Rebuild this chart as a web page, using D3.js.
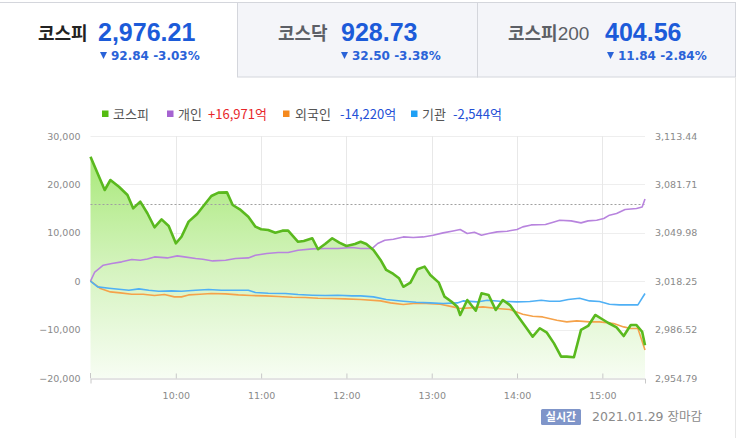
<!DOCTYPE html>
<html>
<head>
<meta charset="utf-8">
<script src="https://cdn.jsdelivr.net/npm/d3@7"></script>
<style>
  body { margin: 0; background: #fff; }
  svg { display: block; }
</style>
</head>
<body>
<svg id="chart" width="743" height="438"></svg>
<script>
// header tabs
const tabNames = ['코스피', '코스닥', '코스피200'];
const tabValues = ['2,976.21', '928.73', '404.56'];
const tabChanges = ['92.84 -3.03%', '32.50 -3.38%', '11.84 -2.84%'];

// minutes after 09:00
const kospiMin = [0, 10, 14, 20, 26, 30, 35, 40, 45, 50, 55, 60, 64, 69, 75, 79, 85, 90, 96, 100,
  105, 111, 116, 120, 125, 130, 135, 139, 146, 150, 156, 160, 165, 170, 175, 180, 186, 190, 194, 199,
  204, 208, 213, 217, 220, 225, 230, 235, 239, 245, 249, 254, 258, 260, 265, 271, 275, 280, 285, 290,
  295, 300, 306, 311, 316, 321, 326, 331, 335, 340, 345, 350, 355, 360, 364, 370, 375, 380, 384, 388, 390];
const kospiVal = [3099.87, 3078.04, 3084.6, 3080.2, 3074.76, 3066.0, 3070.4, 3062.8, 3053.6, 3058.8,
  3054.4, 3043.1, 3047.4, 3057.3, 3062.3, 3067.1, 3074.1, 3076.3, 3076.5, 3068.2,
  3065.4, 3060.5, 3054.0, 3052.3, 3051.8, 3050.0, 3051.4, 3051.4, 3044.1, 3044.6,
  3046.4, 3039.2, 3042.6, 3046.4, 3043.5, 3041.3, 3042.6, 3044.1, 3042.6, 3038.7,
  3032.2, 3025.6, 3023.0, 3020.2, 3014.6, 3017.3, 3026.1, 3027.8, 3022.3, 3017.3,
  3008.1, 3004.8, 3001.5, 2996.1, 3005.9, 2998.9, 3010.3, 3009.2, 2999.4, 3005.9,
  3002.6, 2996.1, 2988.4, 2981.9, 2987.4, 2984.5, 2977.5, 2968.8, 2968.8, 2968.4,
  2986.3, 2988.9, 2996.1, 2993.3, 2991.0, 2988.0, 2982.3, 2989.5, 2989.5, 2985.1, 2976.21];
const prevClose = 3069.05;

// 개인
const retailMin = [0, 3, 9, 15, 22, 29, 35, 40, 45, 54, 61, 66, 74, 79, 86, 95, 102, 111, 116, 124,
  132, 139, 146, 156, 165, 174, 184, 190, 198, 202, 207, 213, 220, 227, 234, 241, 248, 255, 260, 265,
  270, 275, 280, 286, 293, 300, 304, 310, 320, 326, 330, 338, 345, 350, 356, 361, 365, 370, 376, 384, 388, 390];
const retailVal = [0, 1900, 3300, 3650, 4000, 4480, 4340, 4600, 5020, 4810,
  5230, 5020, 4690, 4540, 4190, 4340, 4690, 4810, 5370, 5720,
  5930, 5930, 6400, 6670, 6750, 6750, 6960, 6750, 6750, 7790,
  8470, 8680, 9150, 9020, 9150, 9500, 9980, 10390, 10680, 9850,
  10120, 9500, 9850, 10190, 10330, 10680, 11220, 11630, 11710, 12250,
  12600, 12460, 12050, 12460, 12600, 12950, 13640, 13990, 14810, 15020, 15350, 16971];

// 외국인
const foreignMin = [0, 7, 14, 21, 29, 37, 45, 52, 59, 64, 69, 77, 85, 95, 104, 113, 123, 132, 142, 151,
  160, 170, 179, 190, 204, 211, 220, 227, 236, 246, 255, 260, 267, 276, 286, 295, 304, 311, 318, 328,
  335, 342, 351, 358, 368, 375, 380, 385, 390];
const foreignVal = [0, -1510, -2210, -2420, -2690, -2690, -2960, -2750, -3240, -3240,
  -2830, -2690, -2540, -2620, -2830, -2960, -3040, -3160, -3310, -3370,
  -3510, -3580, -3660, -3780, -4070, -4480, -4810, -4610, -4610, -4750,
  -5310, -5640, -5520, -5310, -5640, -5850, -6820, -7230, -7380, -8060,
  -8410, -8200, -8410, -8410, -8740, -9440, -9770, -9770, -14220];

// 기관
const instMin = [0, 5, 13, 20, 27, 34, 41, 48, 57, 64, 74, 83, 92, 102, 111, 116, 125, 137, 146, 156,
  165, 174, 184, 190, 199, 208, 220, 229, 239, 248, 258, 262, 272, 279, 288, 300, 309, 317, 323, 330,
  336, 344, 351, 358, 365, 372, 377, 385, 390];
const instVal = [0, -1180, -1450, -1650, -1860, -1590, -1860, -2070, -2000, -2070,
  -1860, -1710, -1860, -1860, -1860, -2330, -2480, -2540, -2750, -2890,
  -2960, -2890, -3040, -3040, -3240, -3780, -4130, -4340, -4480, -4610,
  -4480, -4070, -4280, -3930, -4130, -4280, -4200, -3930, -4130, -4130,
  -3780, -3510, -4070, -4200, -4750, -4890, -4890, -4890, -2544];

const leftTicks = [30000, 20000, 10000, 0, -10000, -20000];
const rightTicks = [3113.44, 3081.71, 3049.98, 3018.25, 2986.52, 2954.79];
const hourTicks = [10, 11, 12, 13, 14, 15];

const legendNames = ['코스피', '개인', '외국인', '기관'];
const legendTotals = ['', '+16,971억', '-14,220억', '-2,544억'];

const svg = d3.select('#chart');
const KR = "'Noto Sans CJK KR', sans-serif";
const NUM = "'Liberation Sans', Arial, sans-serif";
const AX = "'DejaVu Sans', sans-serif";

// tabs
const tabX = [0, 237, 477];
const tabW = [237, 240, 258];
tabX.forEach((x, i) => {
    if (i > 0) {
        svg.append('rect').attr('x', x + 0.5).attr('y', 2.5).attr('width', tabW[i]).attr('height', 74.5)
            .attr('fill', '#f4f5f9').attr('stroke', '#d4d6dc');
    }
});
svg.append('line').attr('x1', 0).attr('x2', 237).attr('y1', 2.5).attr('y2', 2.5).attr('stroke', '#d4d6dc');
svg.append('line').attr('x1', 735.5).attr('x2', 735.5).attr('y1', 77).attr('y2', 438).attr('stroke', '#e6e6e6');

const labelX = [38, 278, 508];
const valueX = [98, 341, 605];
const changeX = [100, 341, 607];
tabNames.forEach((name, i) => {
    const t = svg.append('text').attr('x', labelX[i]).attr('y', 40)
        .attr('font-size', 18).attr('font-weight', 700).attr('fill', i === 0 ? '#222' : '#5c5f66');
    const m = name.match(/^(\D+)(\d*)$/);
    t.append('tspan').attr('font-family', KR).text(m[1]);
    if (m[2]) t.append('tspan').attr('font-family', NUM).attr('font-weight', 400).attr('font-size', 19).text(m[2]);
    svg.append('text').attr('x', valueX[i]).attr('y', 41)
        .attr('font-family', NUM).attr('font-size', 25).attr('font-weight', 700).attr('fill', '#1c5bd9')
        .text(tabValues[i]);
    svg.append('path')
        .attr('d', `M${changeX[i]},52 h7 l-3.5,7 z`).attr('fill', '#2a63d8');
    svg.append('text').attr('x', changeX[i] + 11).attr('y', 59.5)
        .attr('font-family', AX).attr('font-size', 12).attr('font-weight', 700).attr('fill', '#2a63d8')
        .text(tabChanges[i]);
});

// legend
const colors = ['#55bb11', '#a663d1', '#f5891e', '#1fa0f5'];
const lineColors = ['#5ab91e', '#b884de', '#f5a24a', '#4fb0f5'];
const legSq = [102, 167, 283, 411];
const legName = [113, 178, 295, 422];
const legTot = [0, 208, 340, 453];
const totColors = ['#333', '#e8262a', '#2450d6', '#2450d6'];
legendNames.forEach((n, i) => {
    svg.append('rect').attr('x', legSq[i]).attr('y', 110.5).attr('width', 6.5).attr('height', 6.5).attr('fill', colors[i]);
    svg.append('text').attr('x', legName[i]).attr('y', 119).attr('font-family', KR).attr('font-size', 13)
        .attr('fill', '#555').text(n);
    if (legendTotals[i]) {
        svg.append('text').attr('x', legTot[i]).attr('y', 119).attr('font-family', KR).attr('font-size', 13)
            .attr('fill', totColors[i]).text(legendTotals[i]);
    }
});

// scales
const x0 = 90.5, x1 = 645, yTop = 136, yBot = 378;
const day = (m) => new Date(2021, 0, 29, 9, m);
const x = d3.scaleTime().domain([day(0), day(390)]).range([x0, x1]);
const yL = d3.scaleLinear().domain([-20000, 30000]).range([yBot, yTop]);
const yR = d3.scaleLinear().domain([2954.79, 3113.44]).range([yBot, yTop]);

// grid
const g = svg.append('g');
g.selectAll('.hg').data(leftTicks.slice(0, 5)).join('line')
    .attr('x1', x0).attr('x2', x1).attr('y1', d => Math.round(yL(d)) + 0.5).attr('y2', d => Math.round(yL(d)) + 0.5)
    .attr('stroke', '#eeeeee');
g.selectAll('.vg').data(hourTicks).join('line')
    .attr('x1', d => Math.round(x(day((d - 9) * 60))) + 0.5).attr('x2', d => Math.round(x(day((d - 9) * 60))) + 0.5)
    .attr('y1', yTop).attr('y2', yBot).attr('stroke', '#e8e8e8');

// area gradient
const defs = svg.append('defs');
const grad = defs.append('linearGradient').attr('id', 'kg').attr('gradientUnits', 'userSpaceOnUse')
    .attr('x1', 0).attr('x2', 0).attr('y1', 150).attr('y2', yBot);
grad.append('stop').attr('offset', 0).attr('stop-color', '#a6e876');
grad.append('stop').attr('offset', 0.55).attr('stop-color', '#d7f4c2');
grad.append('stop').attr('offset', 1).attr('stop-color', '#f7fdf3');

const kospi = kospiMin.map((m, i) => [day(m), kospiVal[i]]);
svg.append('path').datum(kospi)
    .attr('d', d3.area().x(d => x(d[0])).y0(yBot).y1(d => yR(d[1])))
    .attr('fill', 'url(#kg)');

// previous close
svg.append('line').attr('x1', x0).attr('x2', x1)
    .attr('y1', Math.round(yR(prevClose)) + 0.5).attr('y2', Math.round(yR(prevClose)) + 0.5)
    .attr('stroke', '#a0a0a0').attr('stroke-dasharray', '2,2');

// investor lines
const lineL = d3.line().x(d => x(d[0])).y(d => yL(d[1]));
[[retailMin, retailVal, 1], [foreignMin, foreignVal, 2], [instMin, instVal, 3]].forEach(([mins, vals, c]) => {
    svg.append('path').datum(mins.map((m, i) => [day(m), vals[i]]))
        .attr('d', lineL).attr('fill', 'none').attr('stroke', lineColors[c]).attr('stroke-width', 1.6)
        .attr('stroke-linejoin', 'round');
});

svg.append('path').datum(kospi)
    .attr('d', d3.line().x(d => x(d[0])).y(d => yR(d[1])))
    .attr('fill', 'none').attr('stroke', lineColors[0]).attr('stroke-width', 2.6).attr('stroke-linejoin', 'round');

// axes
const xAxis = d3.axisBottom(x).tickValues(hourTicks.map(h => day((h - 9) * 60)))
    .tickFormat(d3.timeFormat('%H:%M')).tickSizeOuter(0).tickSize(5).tickPadding(9);
const xg = svg.append('g').attr('transform', `translate(0,${yBot + 0.5})`).call(xAxis);
xg.select('.domain').attr('stroke', '#c8c8c8');
xg.selectAll('.tick line').attr('stroke', '#c8c8c8').attr('transform', 'translate(0,-5)');
svg.append('line').attr('x1', x0).attr('x2', x0).attr('y1', yBot - 5).attr('y2', yBot + 0.5).attr('stroke', '#c8c8c8');

const yLAxis = d3.axisLeft(yL).tickValues(leftTicks).tickFormat(d3.format(',')).tickSize(0).tickPadding(10);
const ylg = svg.append('g').attr('transform', `translate(${x0},0)`).call(yLAxis);
ylg.select('.domain').remove();

const yRAxis = d3.axisRight(yR).tickValues(rightTicks).tickFormat(d3.format(',.2f')).tickSize(0).tickPadding(10);
const yrg = svg.append('g').attr('transform', `translate(${x1},0)`).call(yRAxis);
yrg.select('.domain').remove();

svg.selectAll('.tick text').attr('font-family', AX).attr('font-size', 9.5).attr('fill', '#8a8a8a');

// footer
svg.append('rect').attr('x', 541).attr('y', 409).attr('width', 40).attr('height', 16).attr('rx', 1.5).attr('fill', '#7f95c9');
svg.append('text').attr('x', 561).attr('y', 421).attr('text-anchor', 'middle').attr('font-family', KR)
    .attr('font-size', 11).attr('font-weight', 700).attr('fill', '#fff').text('실시간');
svg.append('text').attr('x', 592).attr('y', 421).attr('font-family', AX).attr('font-size', 12.5)
    .attr('fill', '#8a8a8a').text('2021.01.29 ').append('tspan').attr('font-family', KR).text('장마감');
</script>
</body>
</html>
